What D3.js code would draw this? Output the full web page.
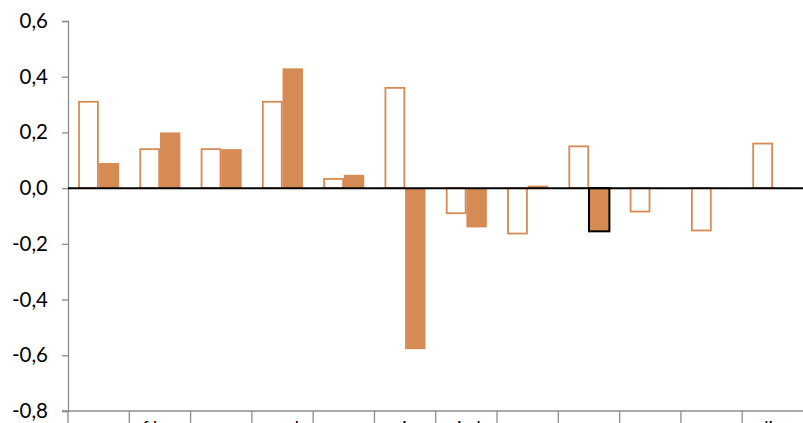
<!DOCTYPE html>
<html>
<head>
<meta charset="utf-8">
<script src="https://cdn.jsdelivr.net/npm/d3@7"></script>
<style>
  html, body { margin: 0; padding: 0; background: #fff; overflow: hidden; }
  svg { display: block; }
</style>
</head>
<body>
<div id="chart"></div>
<script>
// Category names are cut off at the bottom edge of the picture
const categories = ['varer', 'af kurs', 'anmar', 'mank', 'rosen', 'ris', 'ni ok', 'mæsse', 'naver', 'ovne', 'sum', 'ulige'];
const seriesA = [0.31, 0.14, 0.14, 0.31, 0.033, 0.36, -0.09, -0.163, 0.15, -0.084, -0.152, 0.16];
const seriesB = [0.09, 0.20, 0.14, 0.43, 0.048, -0.578, -0.141, 0.009, -0.155, null, null, null];
const highlighted = [8]; // filled bar drawn with a black outline
const yTicks = [-0.8, -0.6, -0.4, -0.2, 0, 0.2, 0.4, 0.6];

const width = 803;
const height = 423;
const margin = { top: 21, right: 0, bottom: 12, left: 68 };
const orange = '#d58b53';

const svg = d3.select('#chart')
  .append('svg')
  .attr('width', width)
  .attr('height', height);

const x = d3.scaleBand()
  .domain(categories)
  .range([margin.left, width - margin.right + 0.5])
  .paddingInner(0)
  .paddingOuter(0);

const xInner = d3.scaleBand()
  .domain(['a', 'b'])
  .range([0, x.bandwidth()])
  .paddingInner(0)
  .paddingOuter(0.5);

const y = d3.scaleLinear()
  .domain([-0.8, 0.6])
  .range([height - margin.bottom, margin.top]);

const fmt = v => d3.format('.1f')(v).replace('.', ',').replace('−', '-');

// y axis
const yAxis = svg.append('g')
  .attr('transform', `translate(${margin.left},0)`)
  .call(d3.axisLeft(y).tickValues(yTicks).tickFormat(fmt).tickSizeOuter(0).tickSize(6).tickPadding(14));
yAxis.select('.domain').attr('stroke', '#8c8c8c').attr('stroke-width', 1.3);
yAxis.selectAll('.tick line').attr('stroke', '#8c8c8c').attr('stroke-width', 1.3);
yAxis.selectAll('.tick text')
  .attr('font-family', 'Lato, sans-serif')
  .attr('font-size', '20.5px')
  .attr('fill', '#000');

// category axis along the bottom
const xAxis = svg.append('g')
  .attr('transform', `translate(0,${y(-0.8)})`);
xAxis.append('line')
  .attr('x1', margin.left - 6)
  .attr('x2', width)
  .attr('stroke', '#8c8c8c')
  .attr('stroke-width', 1.3);
xAxis.selectAll('line.sep')
  .data(categories)
  .join('line')
  .attr('class', 'sep')
  .attr('x1', d => x(d))
  .attr('x2', d => x(d))
  .attr('y1', 0)
  .attr('y2', 14)
  .attr('stroke', '#8c8c8c')
  .attr('stroke-width', 1.3);
xAxis.selectAll('text')
  .data(categories)
  .join('text')
  .attr('x', d => x(d) + x.bandwidth() / 2)
  .attr('y', 23)
  .attr('text-anchor', 'middle')
  .attr('font-family', 'Lato, sans-serif')
  .attr('font-size', '18px')
  .attr('fill', '#000')
  .text(d => d);

// bars
const groups = svg.append('g')
  .selectAll('g')
  .data(categories)
  .join('g')
  .attr('transform', d => `translate(${x(d)},0)`);

groups.filter(d => seriesA[categories.indexOf(d)] !== null)
  .append('rect')
  .attr('x', xInner('a') + 0.75)
  .attr('width', xInner.bandwidth() - 1.5)
  .attr('y', d => y(Math.max(0, seriesA[categories.indexOf(d)])))
  .attr('height', d => Math.abs(y(seriesA[categories.indexOf(d)]) - y(0)))
  .attr('fill', '#fff')
  .attr('stroke', orange)
  .attr('stroke-width', 1.8);

groups.filter(d => seriesB[categories.indexOf(d)] !== null)
  .append('rect')
  .attr('x', xInner('b'))
  .attr('width', xInner.bandwidth())
  .attr('y', d => y(Math.max(0, seriesB[categories.indexOf(d)])))
  .attr('height', d => Math.abs(y(seriesB[categories.indexOf(d)]) - y(0)))
  .attr('fill', orange)
  .attr('stroke', d => highlighted.includes(categories.indexOf(d)) ? '#000' : 'none')
  .attr('stroke-width', 2);

// zero line
svg.append('line')
  .attr('x1', margin.left)
  .attr('x2', width)
  .attr('y1', y(0))
  .attr('y2', y(0))
  .attr('stroke', '#000')
  .attr('stroke-width', 2);
</script>
</body>
</html>
